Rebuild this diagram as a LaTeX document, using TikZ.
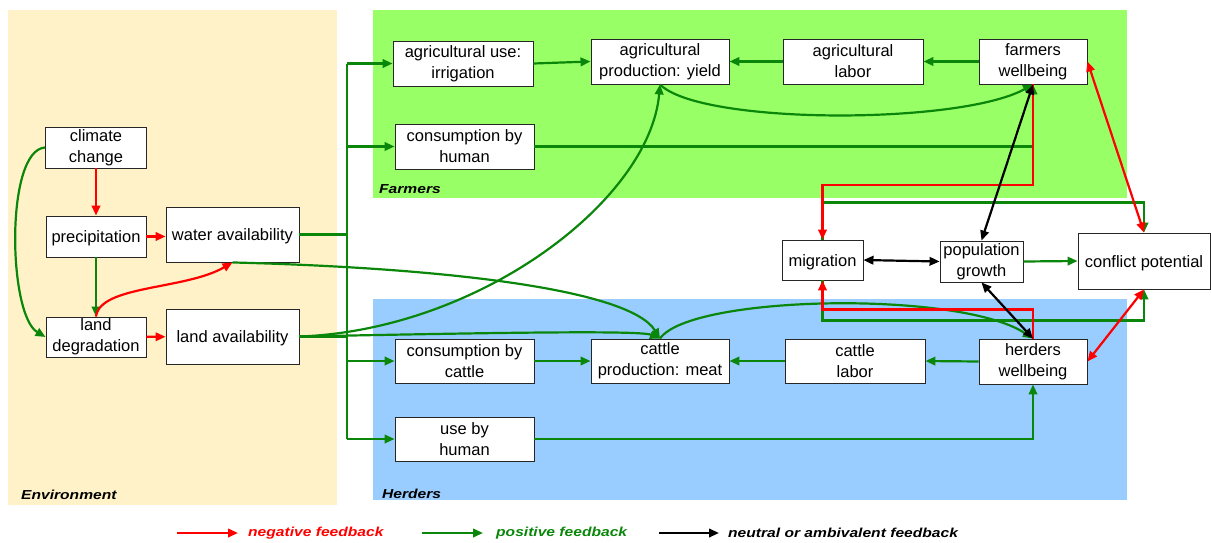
\documentclass[tikz,border=0pt]{standalone}
\usepackage{fontspec}
\usepackage{graphicx}
\setmainfont{Liberation Sans}
\usetikzlibrary{arrows.meta}
\definecolor{pgreen}{RGB}{10,135,10}
\definecolor{nred}{RGB}{255,0,0}
\definecolor{envbg}{RGB}{255,242,200}
\definecolor{farmbg}{RGB}{153,255,102}
\definecolor{herdbg}{RGB}{153,204,255}
\newcommand\labtext[1]{\scalebox{1.2}[1]{\bfseries\itshape #1}}
\begin{document}
\begin{tikzpicture}[x=1pt,y=-1pt,
  box/.style={draw=black!85, line width=0.9pt, fill=white, inner sep=0pt, align=center,
    font=\fontsize{16.5}{21}\selectfont, execute at begin node={\rule{0pt}{16pt}}},
  tipA/.tip={Triangle[length=10pt,width=8.5pt]},
  posarr/.style={draw=pgreen, line width=2.2pt, -tipA},
  busline/.style={draw=pgreen, line width=2.8pt},
  negarr/.style={draw=nred, line width=2.2pt, -tipA},
  negboth/.style={draw=nred, line width=2.2pt, tipA-tipA},
  ambboth/.style={draw=black, line width=2.2pt, tipA-tipA},
  ambarr/.style={draw=black, line width=2.2pt, -tipA},
  panellab/.style={anchor=west, inner sep=0pt, font=\fontsize{13}{13}\selectfont},
]
\useasboundingbox (0,0) rectangle (1211,542);
% panels
\fill[envbg] (8,10) rectangle (337,505);
\fill[farmbg] (373,10) rectangle (1127,198);
\fill[herdbg] (373,299) rectangle (1127,500);
\node[panellab] (envlab) at (21,495) {\labtext{Environment}};
\node[panellab] (farmlab) at (379,189) {\labtext{Farmers}};
\node[panellab] (herdlab) at (382,494) {\labtext{Herders}};

% environment boxes
\node[box, minimum width=101pt, minimum height=41pt] (cc) at (96,147.5) {climate\\change};
\node[box, minimum width=100pt, minimum height=41pt] (prec) at (96,236.5) {precipitation};
\node[box, minimum width=100pt, minimum height=40pt] (ld) at (96,337) {land\\degradation};
\node[box, minimum width=133pt, minimum height=55pt] (wa) at (232.5,234.5) {water availability};
\node[box, minimum width=133pt, minimum height=55pt] (la) at (232.5,336.5) {land availability};

% farmers
\node[box, minimum width=140pt, minimum height=45pt] (au) at (463,63.5) {agricultural use:\\irrigation};
\node[box, minimum width=138pt, minimum height=45pt] (ap) at (660,61.5) {agricultural\\production: yield};
\node[box, minimum width=140pt, minimum height=45pt] (al) at (853,61.5) {agricultural\\labor};
\node[box, minimum width=108pt, minimum height=45pt] (fw) at (1033,61.5) {farmers\\wellbeing};
\node[box, minimum width=139pt, minimum height=45pt] (ch) at (464.5,146.5) {consumption by\\human};

% middle
\node[box, minimum width=81pt, minimum height=40pt] (mig) at (822.5,260) {migration};
\node[box, minimum width=83pt, minimum height=41pt] (pg) at (981.5,261.5) {population\\growth};
\node[box, minimum width=132pt, minimum height=56pt] (con) at (1144,261) {conflict potential};

% herders
\node[box, minimum width=139pt, minimum height=44pt] (cca) at (464.5,361) {consumption by\\cattle};
\node[box, minimum width=138pt, minimum height=44pt] (cp) at (660,361) {cattle\\production: meat};
\node[box, minimum width=140pt, minimum height=44pt] (cl) at (855,361) {cattle\\labor};
\node[box, minimum width=108pt, minimum height=45pt] (hw) at (1033,361.5) {herders\\wellbeing};
\node[box, minimum width=139pt, minimum height=44pt] (uh) at (464.5,439) {use by\\human};

% ---- green connectors
\draw[posarr] (cc.west) .. controls (5,150) and (8,315) .. (ld.west);
\draw[posarr] (prec) -- (ld);
\coordinate (bt) at (347,63.5);
\coordinate (bb) at (347,439);
\draw[busline] (bt) -- (bb);
\draw[busline] (wa.east) -- (wa.east -| bt);
\draw[busline] (la.east) -- (la.east -| bt);
\draw[posarr] (au.west -| bt) -- (au.west);
\draw[posarr] (ch.west -| bt) -- (ch.west);
\draw[posarr] (cca.west -| bt) -- (cca.west);
\draw[posarr] (uh.west -| bt) -- (uh.west);
\draw[posarr] (wa.south) .. controls (450,268) and (630,290) .. (cp.north);
\draw[posarr] (la.east) .. controls (480,333) and (640,330) .. (cp.north);
\draw[posarr] (la.east) .. controls (480,330) and (650,200) .. (ap.south);
\draw[posarr] (ap.south) .. controls (700,125) and (960,125) .. (fw.south);
\draw[posarr] (cp.north) .. controls (690,295) and (960,290) .. (hw.north);
\draw[posarr] (ch.east) -| (fw.south);
\draw[posarr] (uh.east) -| (hw.south);
\draw[posarr] (au.east) -- (ap.west);
\draw[posarr] (al.west) -- (ap.east);
\draw[posarr] (fw.west) -- (al.east);
\draw[posarr] (cca.east) -- (cp.west);
\draw[posarr] (cl.west) -- (cp.east);
\draw[posarr] (hw.west) -- (cl.east);
\draw[posarr] (mig.north) -- ++(0,-37) -| (con.north);
\draw[posarr] (mig.south) -- ++(0,40) -| (con.south);
\draw[posarr] (pg.east) -- (con.west);

% ---- red connectors
\draw[negarr] (cc) -- (prec);
\draw[negarr] (prec.east) -- (wa.west |- prec.east);
\draw[negarr] (ld.north) .. controls (100,285) and (185,290) .. (wa.south);
\draw[negarr] (ld) -- (la);
\draw[negarr] (fw.south) -- ++(0,100.5) -| (mig.north);
\draw[negarr] (hw.north) -- ++(0,-29) -| (mig.south);
\draw[negboth] (fw.east) -- (con.north);
\draw[negboth] (hw.east) -- (con.south);

% ---- black connectors
\draw[ambboth] (mig.east) -- (pg.west);
\draw[ambboth] (fw.south) -- (pg.north);
\draw[ambboth] (pg.south) -- (hw.north);

% ---- legend
\coordinate (r1) at (177,533); \coordinate (r2) at (238,533);
\coordinate (g1) at (422,533); \coordinate (g2) at (483,533);
\coordinate (k1) at (659,533); \coordinate (k2) at (719,533);
\draw[negarr] (r1) -- (r2);
\draw[posarr] (g1) -- (g2);
\draw[ambarr] (k1) -- (k2);
\node[panellab, text=nred] (ltneg) at (248,533) {\labtext{negative feedback}};
\node[panellab, text=pgreen] (ltpos) at (496,533) {\labtext{positive feedback}};
\node[panellab, text=black] (ltamb) at (728,533) {\labtext{neutral or ambivalent feedback}};
\end{tikzpicture}
\end{document}
